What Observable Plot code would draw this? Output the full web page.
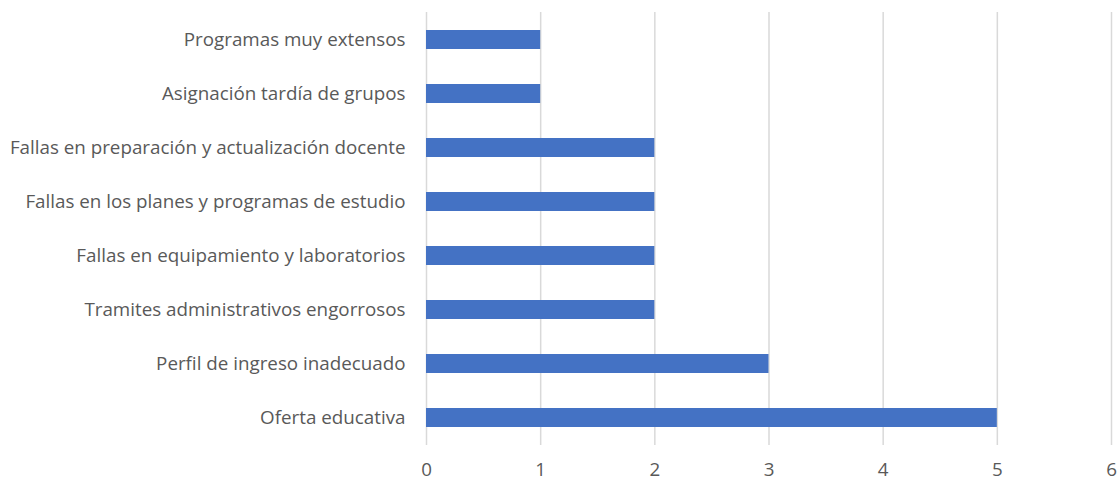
<!DOCTYPE html>
<html>
<head>
<meta charset="utf-8">
<script src="https://cdn.jsdelivr.net/npm/d3@7"></script>
<script src="https://cdn.jsdelivr.net/npm/@observablehq/plot@0.6"></script>
<style>
  html, body { margin: 0; padding: 0; background: #fff; }
  #chart svg { display: block; }
</style>
</head>
<body>
<div id="chart"></div>
<script>
const categories = [
  "Programas muy extensos",
  "Asignación tardía de grupos",
  "Fallas en preparación y actualización docente",
  "Fallas en los planes y programas de estudio",
  "Fallas en equipamiento y laboratorios",
  "Tramites administrativos engorrosos",
  "Perfil de ingreso inadecuado",
  "Oferta educativa"
];
const values = [1, 1, 2, 2, 2, 2, 3, 5];
const xTicks = [0, 1, 2, 3, 4, 5, 6];

const data = categories.map((c, i) => ({category: c, value: values[i]}));

const chart = Plot.plot({
  width: 1117,
  height: 481,
  marginLeft: 426,
  marginRight: 6,
  marginTop: 12,
  marginBottom: 36,
  style: {fontFamily: "'Open Sans', sans-serif", fontSize: "18.8px", color: "#595959", background: "#fff"},
  x: {domain: [0, 6], ticks: xTicks, tickFormat: "d", tickSize: 0, tickPadding: 17, label: null},
  y: {domain: categories, paddingInner: 0.65, paddingOuter: 0.325, tickSize: 0, tickPadding: 21, label: null},
  marks: [
    Plot.ruleX(xTicks, {stroke: "#d9d9d9", strokeWidth: 1.5}),
    Plot.barX(data, {y: "category", x: "value", fill: "#4472C4"})
  ]
});
document.getElementById("chart").appendChild(chart);
</script>
</body>
</html>
